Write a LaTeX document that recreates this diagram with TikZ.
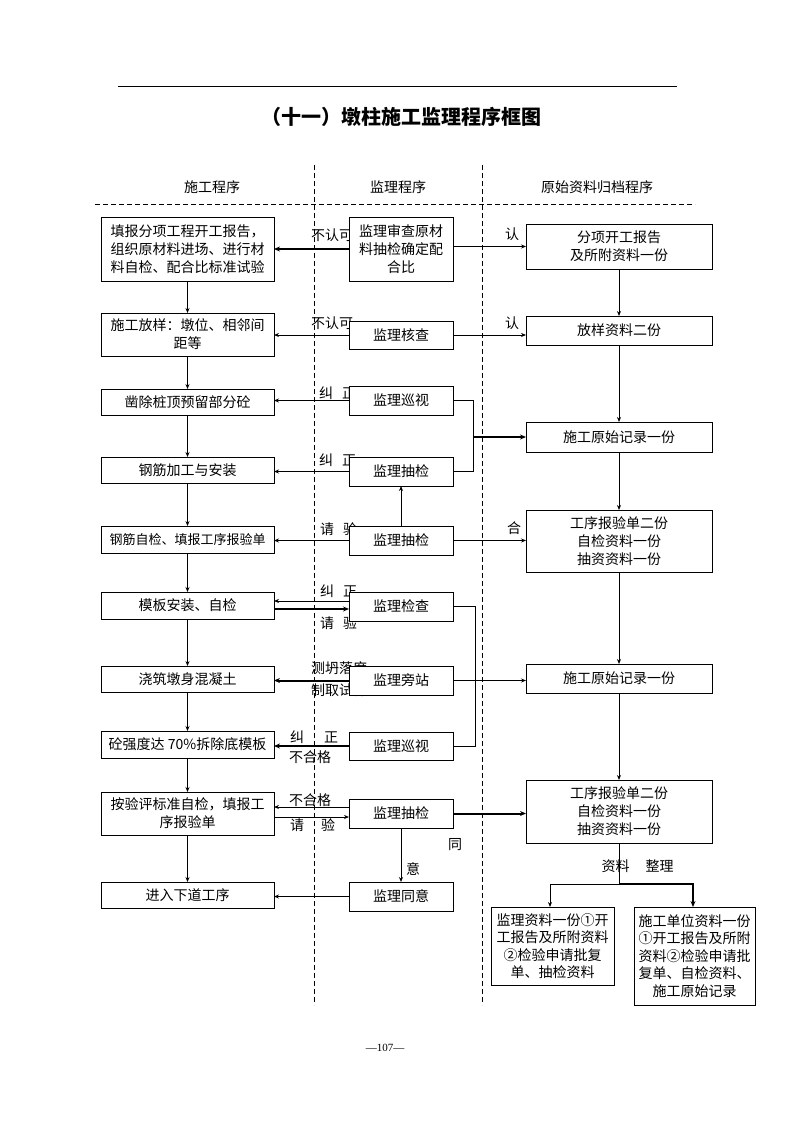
\documentclass[tikz,border=0pt]{standalone}
\usepackage{fontspec}
\setmainfont{Noto Sans CJK SC}
\newfontfamily\pagefont{Liberation Serif}
\usetikzlibrary{arrows.meta,calc}
\newcommand\fs{\fontsize{14pt}{18pt}\selectfont}
\begin{document}
\begin{tikzpicture}[x=1pt,y=-1pt,
  box/.style={draw, fill=white, line width=0.9pt, inner sep=0pt, outer sep=0pt, align=center, font=\fs},
  arr/.style={-{Stealth[length=5pt,width=4pt]}, line width=0.8pt},
  tarr/.style={-{Stealth[length=6pt,width=5pt]}, line width=2pt},
  ln/.style={line width=0.8pt},
  lab/.style={inner sep=0pt, font=\fs},
  sep/.style={dash pattern=on 5pt off 3pt, line width=0.7pt}]
\useasboundingbox (0,0) rectangle (794,1123);
% header
\draw[line width=0.8pt] (118,86) -- (677,86);
\node[inner sep=0pt, font=\bfseries\fontsize{20pt}{24pt}\selectfont] (title) at (401,117) {（十一）墩柱施工监理程序框图};
\draw[sep] (314,165) -- (314,1005);
\draw[sep] (482,165) -- (482,1005);
\draw[sep] (95,204) -- (695,204);
\node[lab] (h1) at (212,187) {施工程序};
\node[lab] (h2) at (398,187) {监理程序};
\node[lab] (h3) at (597,187) {原始资料归档程序};
% labels (drawn before boxes so boxes cover their ends)
\node[lab, anchor=west] (t1) at (311,235) {不认可};
\node[lab] (t1b) at (512,234) {认};
\node[lab, anchor=west] (t2) at (311,323) {不认可};
\node[lab] (t2b) at (512,323) {认};
\node[lab, anchor=west] (t3) at (319,393) {纠\hspace{9pt}正};
\node[lab, anchor=west] (t4) at (319,460) {纠\hspace{9pt}正};
\node[lab, anchor=west] (t5) at (320,529) {请\hspace{9pt}验};
\node[lab] (t5b) at (514,528) {合};
\node[lab, anchor=west] (t6) at (320,591) {纠\hspace{9pt}正};
\node[lab, anchor=west] (t6b) at (320,623) {请\hspace{9pt}验};
\node[lab, anchor=west] (t7) at (311,668) {测坍落度};
\node[lab, anchor=west] (t7b) at (311,690) {制取试件};
\node[lab, anchor=west] (t8) at (290,737) {纠\hspace{20pt}正};
\node[lab] (t8b) at (310,757) {不合格};
\node[lab] (t9) at (310,800) {不合格};
\node[lab, anchor=west] (t9b) at (290,825.5) {请\hspace{17pt}验};
\node[lab] (t9c) at (455,845) {同};
\node[lab] (t9d) at (413,869) {意};
\node[lab] (t10) at (615.5,866) {资料};
\node[lab] (t10b) at (659.5,866) {整理};
% left column
\node[box, minimum width=173pt, minimum height=64pt] (L1) at (187.5,249) {填报分项工程开工报告，\\组织原材料进场、进行材\\料自检、配合比标准试验};
\node[box, minimum width=173pt, minimum height=43pt] (L2) at (187.5,334.5) {施工放样：墩位、相邻间\\距等};
\node[box, minimum width=173pt, minimum height=26pt] (L3) at (187.5,402) {凿除桩顶预留部分砼};
\node[box, minimum width=173pt, minimum height=26pt] (L4) at (187.5,470) {钢筋加工与安装};
\node[box, minimum width=173pt, minimum height=27pt, font=\fontsize{13pt}{16pt}\selectfont] (L5) at (187.5,539.5) {钢筋自检、填报工序报验单};
\node[box, minimum width=173pt, minimum height=27pt] (L6) at (187.5,605.5) {模板安装、自检};
\node[box, minimum width=173pt, minimum height=26pt] (L7) at (187.5,679) {浇筑墩身混凝土};
\node[box, minimum width=173pt, minimum height=27pt] (L8) at (187.5,744.5) {砼强度达 70\%拆除底模板};
\node[box, minimum width=173pt, minimum height=43pt] (L9) at (187.5,813.5) {按验评标准自检，填报工\\序报验单};
\node[box, minimum width=173pt, minimum height=26pt] (L10) at (187.5,895) {进入下道工序};
% middle column
\node[box, minimum width=104pt, minimum height=64pt] (M1) at (401,249) {监理审查原材\\料抽检确定配\\合比};
\node[box, minimum width=104pt, minimum height=28pt] (M2) at (401,335) {监理核查};
\node[box, minimum width=104pt, minimum height=29pt] (M3) at (401,400.5) {监理巡视};
\node[box, minimum width=104pt, minimum height=29pt] (M4) at (401,471.5) {监理抽检};
\node[box, minimum width=104pt, minimum height=29pt] (M5) at (401,540.5) {监理抽检};
\node[box, minimum width=104pt, minimum height=29pt] (M6) at (401,606.5) {监理检查};
\node[box, minimum width=104pt, minimum height=29pt] (M7) at (401,680.5) {监理旁站};
\node[box, minimum width=104pt, minimum height=28pt] (M8) at (401,746) {监理巡视};
\node[box, minimum width=104pt, minimum height=29pt] (M9) at (401,813.5) {监理抽检};
\node[box, minimum width=104pt, minimum height=29pt] (M10) at (401,896.5) {监理同意};
% right column
\node[box, minimum width=186pt, minimum height=45pt] (R1) at (619,246.5) {分项开工报告\\及所附资料一份};
\node[box, minimum width=186pt, minimum height=29pt] (R2) at (619,330.5) {放样资料二份};
\node[box, minimum width=186pt, minimum height=30pt] (R3) at (619,437) {施工原始记录一份};
\node[box, minimum width=186pt, minimum height=62pt] (R4) at (619,541) {工序报验单二份\\自检资料一份\\抽资资料一份};
\node[box, minimum width=186pt, minimum height=29pt] (R5) at (619,678.5) {施工原始记录一份};
\node[box, minimum width=186pt, minimum height=63pt] (R6) at (619,811.5) {工序报验单二份\\自检资料一份\\抽资资料一份};
\node[box, minimum width=123pt, minimum height=78pt, font=\fontsize{14pt}{17.5pt}\selectfont] (R7) at (552.5,946) {监理资料一份①开\\工报告及所附资料\\②检验申请批复\\单、抽检资料};
\node[box, minimum width=121pt, minimum height=98pt, font=\fontsize{14pt}{17.5pt}\selectfont] (R8) at (694.5,956) {施工单位资料一份\\①开工报告及所附\\资料②检验申请批\\复单、自检资料、\\施工原始记录};
% left column flow
\foreach \a/\b in {L1/L2,L2/L3,L3/L4,L4/L5,L5/L6,L6/L7,L7/L8,L8/L9,L9/L10}
  \draw[arr] (\a.south) -- (\b.north);
% right column flow
\foreach \a/\b in {R1/R2,R2/R3,R3/R4,R4/R5,R5/R6}
  \draw[arr] (\a.south) -- (\b.north);
% row 1
\draw[tarr] (M1.west) -- (M1.west -| L1.east);
\draw[arr] (R1.west -| M1.east) -- (R1.west);
% row 2
\draw[arr] (M2.west) -- (M2.west -| L2.east);
\draw[arr] (M2.east) -- (M2.east -| R2.west);
% rows 3-4
\draw[arr] (M3.west) -- (M3.west -| L3.east);
\draw[arr] (M4.west) -- (M4.west -| L4.east);
\coordinate (j1) at (473,437);
\draw[ln] (M3.east) -| (j1);
\draw[ln] (M4.east) -| (j1);
\draw[tarr] (j1) -- (R3.west);
% row 5
\draw[arr] (M5.west) -- (M5.west -| L5.east);
\draw[arr] (M5.east) -- (M5.east -| R4.west);
\draw[arr] (M5.north) -- (M4.south);
% row 6
\draw[arr] ([yshift=5.5pt]M6.west) -- ([yshift=5.5pt]M6.west -| L6.east);
\draw[tarr] ([yshift=-3.5pt]L6.east) -- ([yshift=-3.5pt]L6.east -| M6.west);
% rows 6-8 bracket
\coordinate (j2) at (475,680.5);
\draw[ln] (M6.east) -| (j2);
\draw[ln] (M8.east) -| (j2);
\draw[arr] (M7.east) -- (M7.east -| R5.west);
\draw[tarr] (M7.west) -- (M7.west -| L7.east);
\draw[tarr] (M8.west) -- (M8.west -| L8.east);
% row 9
\draw[arr] ([yshift=6.5pt]M9.west) -- ([yshift=6.5pt]M9.west -| L9.east);
\draw[arr] ([yshift=-3.5pt]L9.east) -- ([yshift=-3.5pt]L9.east -| M9.west);
\draw[tarr] (M9.east) -- (M9.east -| R6.west);
\draw[arr] (M9.south) -- (M10.north);
% row 10
\draw[arr] (M10.west) -- (M10.west -| L10.east);
% split to archives
\coordinate (s) at (619,884);
\draw[ln] (R6.south) -- (s);
\draw[arr] (s) -| ([xshift=-2.5pt]R7.north);
\draw[tarr] (s) -| ([xshift=-1.5pt]R8.north);
% page number
\node[inner sep=0pt, font=\pagefont\fontsize{11pt}{13pt}\selectfont] (pg) at (385,1048) {—107—};
\end{tikzpicture}
\end{document}
